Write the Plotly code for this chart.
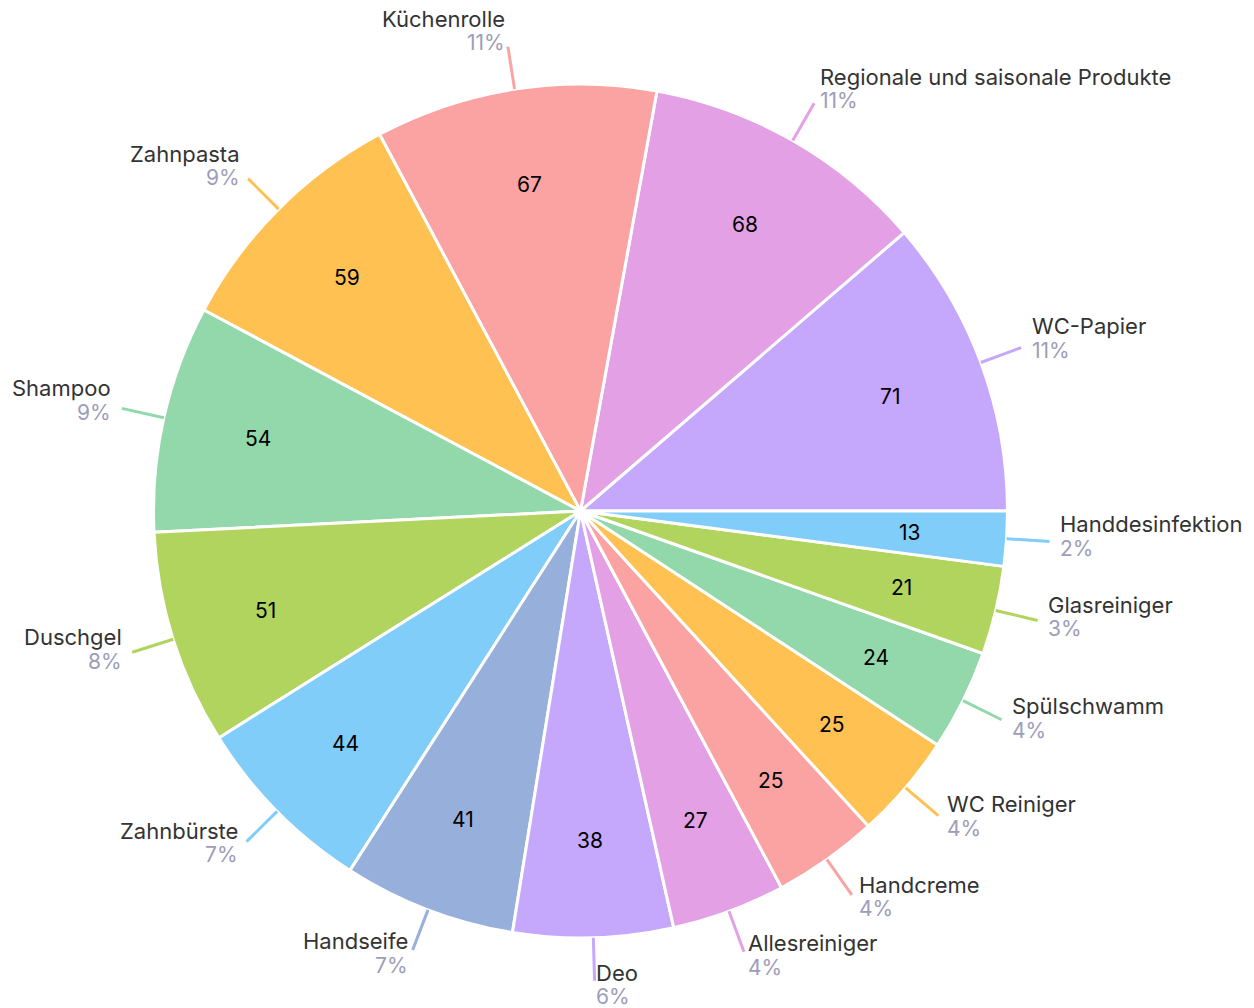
import math
import plotly.graph_objects as go

categories = ["WC-Papier", "Regionale und saisonale Produkte", "Küchenrolle", "Zahnpasta",
              "Shampoo", "Duschgel", "Zahnbürste", "Handseife", "Deo", "Allesreiniger",
              "Handcreme", "WC Reiniger", "Spülschwamm", "Glasreiniger", "Handdesinfektion"]
values = [71, 68, 67, 59, 54, 51, 44, 41, 38, 27, 25, 25, 24, 21, 13]
palette = ["#C5A8FC", "#E3A0E4", "#FBA3A3", "#FFC152", "#93D8AA", "#B1D45F", "#80CDFA", "#97AFDB"]

# page is offset by the default 8px body margin
OFF = 8
W, H = 1254 - OFF, 1008 - OFF
CX, CY, R = 580.5, 511.0, 427.0   # in page pixels
FONT = "Inter"
LABEL_SIZE = 22
VALUE_SIZE = 21

colors = [palette[i % len(palette)] for i in range(len(values))]
total = sum(values)

def px(x):
    return (x - OFF) / W

def py(y):
    return 1 - (y - OFF) / H

fig = go.Figure()
fig.add_trace(go.Pie(
    labels=categories, values=values, sort=False,
    direction="counterclockwise", rotation=90 - values[0] / total * 360,
    marker=dict(colors=colors, line=dict(color="white", width=3)),
    textinfo="none", hoverinfo="none", showlegend=False,
    domain=dict(x=[px(CX - R), px(CX + R)], y=[py(CY + R), py(CY - R)]),
))

shapes = []
annotations = []
cum = 0
for name, v, col in zip(categories, values, colors):
    mid = (cum + v / 2) / total * 2 * math.pi
    cum += v
    c, s = math.cos(mid), math.sin(mid)
    # leader line
    x0, y0 = CX + R * c, CY - R * s
    x1, y1 = CX + (R + 43) * c, CY - (R + 43) * s
    shapes.append(dict(type="line", xref="paper", yref="paper",
                       x0=px(x0), y0=py(y0), x1=px(x1), y1=py(y1),
                       line=dict(color=col, width=3)))
    # outer label: name and percentage
    lx, ly = CX + (R + 53) * c, CY - (R + 53) * s
    pct = f"{round(v / total * 100)}%"
    side = "left" if c >= 0 else "right"
    annotations.append(dict(
        xref="paper", yref="paper", x=px(lx), y=py(ly - 18),
        xanchor=side, yanchor="middle", align=side,
        text=name, showarrow=False, borderpad=0,
        font=dict(family=FONT, size=LABEL_SIZE, color="#333333")))
    annotations.append(dict(
        xref="paper", yref="paper", x=px(lx), y=py(ly + 6),
        xanchor=side, yanchor="middle", align=side,
        text=pct, showarrow=False, borderpad=0,
        font=dict(family=FONT, size=LABEL_SIZE - 1, color="#9D9DBA")))
    # inner value
    ix, iy = CX + 0.773 * R * c, CY - 0.773 * R * s
    annotations.append(dict(
        xref="paper", yref="paper", x=px(ix), y=py(iy),
        xanchor="center", yanchor="middle", text=str(v), showarrow=False,
        font=dict(family=FONT, size=VALUE_SIZE, color="#000000")))

fig.update_layout(
    width=W, height=H, margin=dict(l=0, r=0, t=0, b=0),
    paper_bgcolor="white", plot_bgcolor="white",
    shapes=shapes, annotations=annotations,
)
fig.write_html("out.html")
